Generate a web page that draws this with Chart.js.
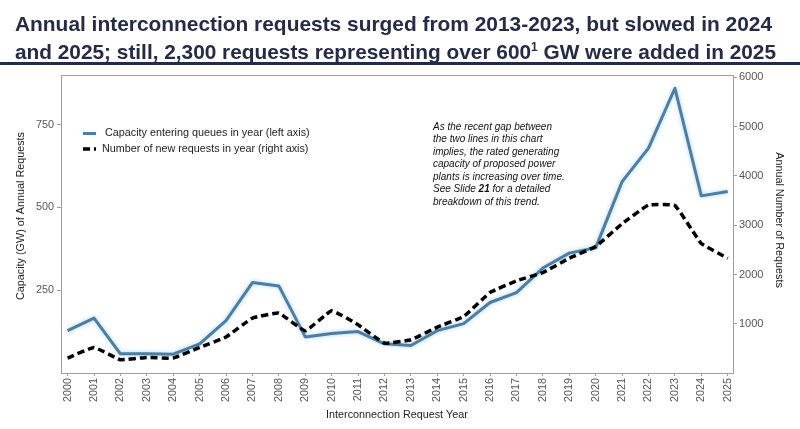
<!DOCTYPE html>
<html><head><meta charset="utf-8">
<script src="https://cdn.jsdelivr.net/npm/chart.js@4.4.1/dist/chart.umd.min.js"></script>
<style>
html,body{margin:0;padding:0;background:#fff;width:800px;height:429px;overflow:hidden;}
#wrap{position:relative;width:800px;height:429px;}
#c{position:absolute;left:0;top:0;}
.t{position:absolute;left:15px;font:bold 21px "Liberation Sans",Arial,sans-serif;line-height:24px;color:#262b45;white-space:nowrap;transform-origin:0 0;}
#rule{position:absolute;left:0;top:62px;width:800px;height:3px;background:#1f2c50;}
#note{position:absolute;left:433px;top:120.5px;font:italic 10px "Liberation Sans",Arial,sans-serif;line-height:12.5px;color:#111;white-space:nowrap;}
</style></head>
<body><div id="wrap">
<canvas id="c" width="800" height="429"></canvas>
<div class="t" id="t1" style="top:11.7px">Annual interconnection requests surged from 2013-2023, but slowed in 2024</div>
<div class="t" id="t2" style="top:35.2px">and 2025; still, 2,300 requests representing over 600<span style="font-size:12px;vertical-align:8px">1</span> GW were added in 2025</div>
<div id="rule"></div>
<div id="note">As the recent gap between<br>the two lines in this chart<br>implies, the rated generating<br>capacity of proposed power<br>plants is increasing over time.<br>See Slide <b>21</b> for a detailed<br>breakdown of this trend.</div>
</div>
<script>
const years = [2000,2001,2002,2003,2004,2005,2006,2007,2008,2009,2010,2011,2012,2013,2014,2015,2016,2017,2018,2019,2020,2021,2022,2023,2024,2025];
const capacityGW = [128,166,58,58,57,88,158,273,263,109,119,125,88,83,128,149,213,243,317,362,378,578,679,860,535,548];
const requests = [304,519,270,316,304,519,730,1115,1216,857,1263,979,608,675,932,1147,1634,1871,2039,2331,2570,3030,3410,3400,2630,2330];
const leftTicks = [250,500,750];
const rightTicks = [1000,2000,3000,4000,5000,6000];
const seriesLabels = ['Capacity entering queues in year (left axis)','Number of new requests in year (right axis)'];
const xTitle = 'Interconnection Request Year';
const yLeftTitle = 'Capacity (GW) of Annual Requests';
const yRightTitle = 'Annual Number of Requests';

// fit title lines to their widths
[['t1',757],['t2',761]].forEach(([id,w])=>{
  const el=document.getElementById(id);
  const nat=el.getBoundingClientRect().width;
  el.style.transform='scaleX('+(w/nat)+')';
});

const BLUE='#4f7ca3';
const AXC='#9f9cad';
const FONT='"Liberation Sans", Arial, sans-serif';

const extras = {
  id:'extras',
  beforeDatasetDraw(chart,args){
    if(args.index===0){
      const ctx=chart.ctx; ctx.save();
      ctx.shadowColor='rgba(150,210,240,0.9)'; ctx.shadowBlur=4;
    }
  },
  afterDatasetDraw(chart,args){
    if(args.index===0){ chart.ctx.restore(); }
  },
  afterDraw(chart){
    const ctx=chart.ctx, a=chart.chartArea;
    ctx.save();
    // top border
    ctx.strokeStyle=AXC; ctx.lineWidth=1;
    ctx.beginPath(); ctx.moveTo(a.left,a.top+0.5); ctx.lineTo(a.right,a.top+0.5); ctx.stroke();
    // legend
    const ds=chart.data.datasets;
    ctx.font='10.8px '+FONT; ctx.fillStyle='#222'; ctx.textBaseline='middle'; ctx.textAlign='left';
    ctx.strokeStyle=ds[0].borderColor; ctx.lineWidth=3; ctx.setLineDash([]);
    ctx.beginPath(); ctx.moveTo(83,133.5); ctx.lineTo(96,133.5); ctx.stroke();
    ctx.fillText(ds[0].label,105,133.5);
    ctx.strokeStyle=ds[1].borderColor; ctx.lineWidth=3.5; ctx.setLineDash(ds[1].borderDash);
    ctx.beginPath(); ctx.moveTo(83,149); ctx.lineTo(96,149); ctx.stroke();
    ctx.setLineDash([]);
    ctx.fillText(ds[1].label,102,149);
    // axis titles
    ctx.font='10.8px '+FONT; ctx.fillStyle='#222'; ctx.textAlign='center';
    ctx.fillText(xTitle,(a.left+a.right)/2,415);
    ctx.save(); ctx.translate(21.5,216); ctx.rotate(-Math.PI/2); ctx.fillText(yLeftTitle,0,0); ctx.restore();
    ctx.save(); ctx.translate(779,220); ctx.rotate(Math.PI/2); ctx.fillText(yRightTitle,0,0); ctx.restore();
    ctx.restore();
  }
};

new Chart(document.getElementById('c'),{
  type:'line',
  data:{datasets:[
    {label:seriesLabels[0],data:years.map((y,i)=>({x:y,y:capacityGW[i]})),yAxisID:'yL',borderColor:BLUE,borderWidth:3,pointRadius:0,tension:0,order:2,borderJoinStyle:'round'},
    {label:seriesLabels[1],data:years.map((y,i)=>({x:y,y:requests[i]})),yAxisID:'yR',borderColor:'#000',borderWidth:3.5,borderDash:[7,4],pointRadius:0,tension:0.1,order:1}
  ]},
  options:{
    responsive:false,animation:false,
    layout:{padding:{top:75,left:0,right:0,bottom:0}},
    plugins:{legend:{display:false},tooltip:{enabled:false}},
    scales:{
      x:{type:'linear',position:'bottom',min:1999.75,max:2025.2,
        afterBuildTicks(s){s.ticks=years.map(v=>({value:v}));},
        afterFit(s){s.height=56;},
        ticks:{minRotation:90,maxRotation:90,autoSkip:false,padding:2,color:'#555',font:{family:FONT,size:10.8},callback:v=>String(v)},
        grid:{drawOnChartArea:false,drawTicks:true,tickLength:3,color:AXC},
        border:{color:AXC}},
      yL:{type:'linear',position:'left',min:0,max:900,
        afterBuildTicks(s){s.ticks=leftTicks.map(v=>({value:v}));},
        afterFit(s){s.width=61;},
        ticks:{padding:3,color:'#555',font:{family:FONT,size:10.8},callback:v=>String(v)},
        grid:{drawOnChartArea:false,drawTicks:true,tickLength:4,color:AXC},
        border:{color:AXC}},
      yR:{type:'linear',position:'right',min:0,max:6050,
        afterBuildTicks(s){s.ticks=rightTicks.map(v=>({value:v}));},
        afterFit(s){s.width=67;},
        ticks:{padding:2,color:'#555',font:{family:FONT,size:11},callback:v=>String(v)},
        grid:{drawOnChartArea:false,drawTicks:true,tickLength:4,color:AXC},
        border:{color:AXC}}
    }
  },
  plugins:[extras]
});
</script>
</body></html>
